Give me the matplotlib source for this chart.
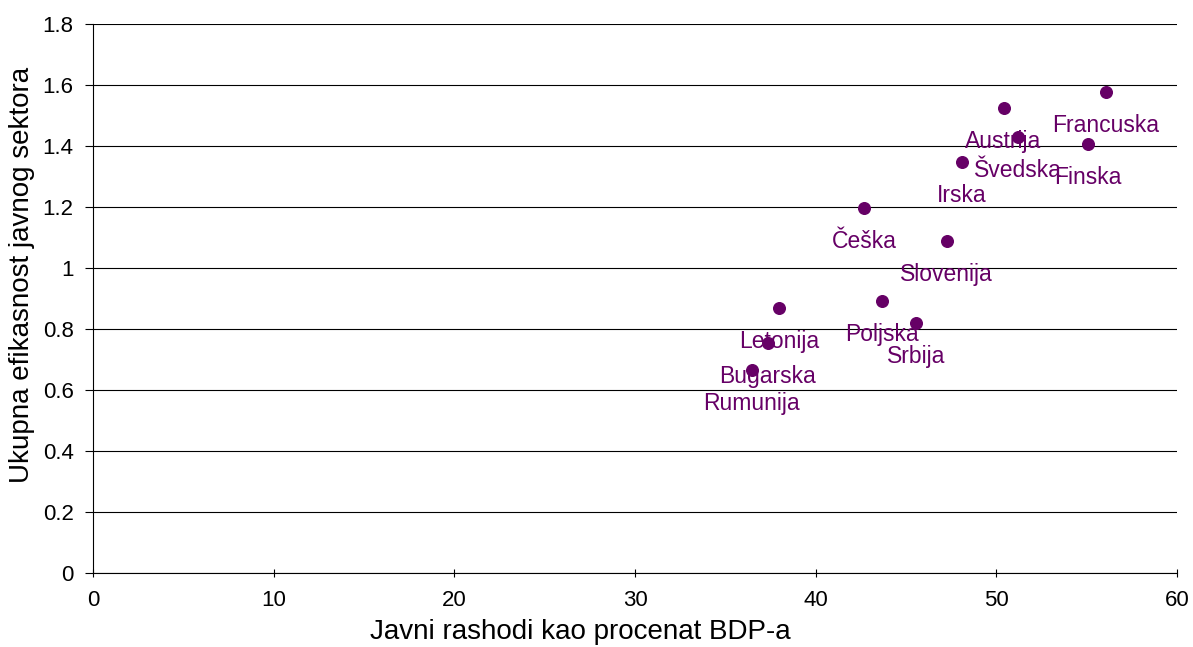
import matplotlib.pyplot as plt
import numpy as np

plt.rcParams['font.family'] = ['Liberation Sans', 'DejaVu Sans']

countries = ["Francuska", "Austrija", "Švedska", "Finska", "Irska", "Češka",
             "Slovenija", "Poljska", "Srbija", "Letonija", "Bugarska", "Rumunija"]
rashodi = [56.06, 50.4, 51.2, 55.06, 48.1, 42.67, 47.26, 43.66, 45.55, 37.96, 37.35, 36.47]
efikasnost = [1.577, 1.525, 1.43, 1.407, 1.348, 1.197, 1.089, 0.892, 0.82, 0.869, 0.754, 0.666]

purple = "#660066"

fig = plt.figure(figsize=(11.93, 6.47), dpi=100)
ax = fig.add_axes([93 / 1193, 1 - 573 / 647, (1177 - 93) / 1193, (573 - 24) / 647])

ax.scatter(rashodi, efikasnost, s=70, color=purple, zorder=3)
for name, x, y in zip(countries, rashodi, efikasnost):
    ax.annotate(name, (x, y), xytext=(0, -24), textcoords="offset points",
                ha="center", va="center", fontsize=16.5, color=purple, zorder=4)

ax.set_xlim(0, 60)
ax.set_ylim(0, 1.8)
ax.set_xticks(np.arange(0, 61, 10))
ax.set_yticks(np.arange(0, 1.81, 0.2))
ax.set_yticklabels(["0", "0.2", "0.4", "0.6", "0.8", "1", "1.2", "1.4", "1.6", "1.8"])
ax.grid(axis="y", color="black", linewidth=0.8)
ax.set_axisbelow(True)
for s in ["top", "right"]:
    ax.spines[s].set_visible(False)
ax.tick_params(axis="both", labelsize=16, color="black", length=6)
ax.tick_params(axis="y", pad=8)
ax.tick_params(axis="x", direction="inout", pad=9)

ax.set_xlabel("Javni rashodi kao procenat BDP-a", fontsize=20, va="baseline")
ax.xaxis.set_label_coords(0.450, -0.121)
ax.set_ylabel("Ukupna efikasnost javnog sektora", fontsize=20, va="center")
ax.yaxis.set_label_coords(-0.0655, 0.543)

fig.savefig("out.png", dpi=100)
